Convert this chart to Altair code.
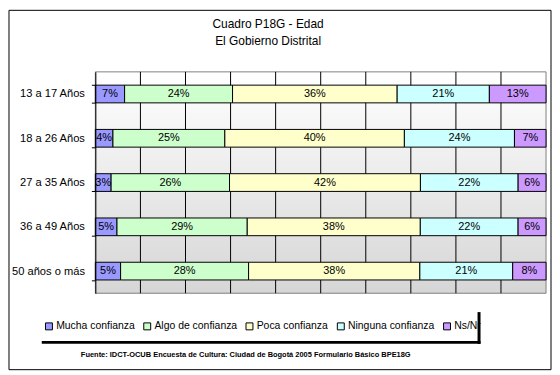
import altair as alt
import pandas as pd

FONT = "Liberation Sans"

ages = ["13 a 17 Años", "18 a 26 Años", "27 a 35 Años", "36 a 49 Años", "50 años o más"]
categories = ["Mucha confianza", "Algo de confianza", "Poca confianza", "Ninguna confianza", "Ns/Nr"]
colors = ["#9999FF", "#CCFFCC", "#FFFFCC", "#CCFFFF", "#CC99FF"]

# segment widths (percent of each bar)
mucha = [6.5, 3.9, 3.5, 4.8, 5.6]
algo = [24.0, 24.8, 26.3, 28.9, 28.4]
poca = [36.6, 39.8, 42.4, 38.4, 38.0]
ninguna = [20.5, 24.4, 21.7, 21.7, 20.6]
nsnr = [12.6, 7.0, 6.2, 6.2, 7.4]

# labels printed in the segments
mucha_lbl = ["7%", "4%", "3%", "5%", "5%"]
algo_lbl = ["24%", "25%", "26%", "29%", "28%"]
poca_lbl = ["36%", "40%", "42%", "38%", "38%"]
ninguna_lbl = ["21%", "24%", "22%", "22%", "21%"]
nsnr_lbl = ["13%", "7%", "6%", "6%", "8%"]

grid_ticks = [0.1, 0.2, 0.3, 0.4, 0.5, 0.6, 0.7, 0.8, 0.9]

title_lines = ["Cuadro P18G - Edad", "El Gobierno Distrital"]
source = "Fuente: IDCT-OCUB Encuesta de Cultura: Ciudad de Bogotá 2005 Formulario Básico BPE18G"

series = [mucha, algo, poca, ninguna, nsnr]
labels = [mucha_lbl, algo_lbl, poca_lbl, ninguna_lbl, nsnr_lbl]
rows = []
for ci, (cat, vals, lbls) in enumerate(zip(categories, series, labels)):
    for age, v, l in zip(ages, vals, lbls):
        rows.append({"age": age, "cat": cat, "order": ci, "value": v, "label": l})
df = pd.DataFrame(rows)

W, H = 454, 223

xscale = alt.Scale(domain=[0, 1], nice=False, zero=False)
yscale = alt.Scale(domain=ages, paddingInner=0.6, paddingOuter=0.3)

xaxis = alt.Axis(
    labels=False, ticks=False, domain=False, grid=False, zindex=1,
    title=source, titleFont=FONT, titleFontSize=7.5, titleFontWeight="bold",
    titleColor="black", titleX=151, titleY=58, titleAlign="center", titleBaseline="top",
)
yaxis = alt.Axis(
    title=None, labelFont=FONT, labelFontSize=11.2, labelColor="black",
    tickColor="black", tickSize=4, domainColor="black", tickBand="extent",
    tickExtra=True, labelPadding=7, grid=False, zindex=1,
)

one = alt.Data(values=[{}])

# chart border
border = alt.Chart(one).mark_rect(fill="white", stroke="black", strokeWidth=1).encode(
    x=alt.value(-87), x2=alt.value(459), y=alt.value(-62), y2=alt.value(300)
)

# plot background gradient
bg = alt.Chart(one).mark_rect(
    color=alt.LinearGradient(
        gradient="linear",
        stops=[alt.GradientStop(offset=0, color="#FFFFFF"),
               alt.GradientStop(offset=1, color="#D6D6D6")],
        x1=0, x2=0, y1=0, y2=1,
    ),
    stroke="#808080", strokeWidth=1,
).encode(x=alt.value(0), x2=alt.value("width"), y=alt.value(0), y2=alt.value("height"))

grid = alt.Chart(alt.Data(values=[{"t": t} for t in grid_ticks])).mark_rule(
    color="black", strokeWidth=1
).encode(x=alt.X("t:Q", scale=xscale, axis=xaxis))

base = alt.Chart(df).transform_stack(
    stack="value", groupby=["age"], sort=[alt.SortField("order")],
    as_=["x0", "x1"], offset="normalize"
).transform_calculate(mid="(datum.x0 + datum.x1) / 2")

bars = base.mark_bar(stroke="black", strokeWidth=1).encode(
    x=alt.X("x0:Q", scale=xscale, axis=xaxis),
    x2="x1:Q",
    y=alt.Y("age:N", scale=yscale, sort=ages, axis=yaxis),
    color=alt.Color("cat:N", scale=alt.Scale(domain=categories, range=colors),
                    sort=categories,
                    legend=alt.Legend(
                        title=None, orient="none", legendX=-52, legendY=251,
                        direction="horizontal", columns=5, symbolType="square",
                        symbolSize=49, symbolStrokeColor="black", symbolStrokeWidth=1,
                        labelFont=FONT, labelFontSize=10.5, labelColor="black",
                        labelOffset=2, columnPadding=6, padding=0,
                    )),
)

text = base.mark_text(font=FONT, fontSize=11, color="black").encode(
    x=alt.X("mid:Q", scale=xscale, axis=xaxis),
    y=alt.Y("age:N", scale=yscale, sort=ages, axis=yaxis),
    text="label:N",
)

shadow_b = alt.Chart(one).mark_rule(color="black", strokeWidth=3).encode(
    x=alt.value(-54), x2=alt.value(388), y=alt.value(272.5)
)
shadow_r = alt.Chart(one).mark_rule(color="black", strokeWidth=3).encode(
    x=alt.value(386.5), y=alt.value(242), y2=alt.value(274)
)

chart = alt.layer(border, bg, grid, bars, text, shadow_b, shadow_r).properties(
    width=W, height=H, padding=0,
    title=alt.TitleParams(
        text=title_lines, font=FONT, fontSize=12, fontWeight="normal", color="black",
        lineHeight=17, anchor="middle", frame="bounds", offset=-38, dx=-12,
    ),
).configure_view(strokeWidth=0).configure(background="white")

chart.save("out.html", embed_options={"renderer": "svg", "actions": False})
